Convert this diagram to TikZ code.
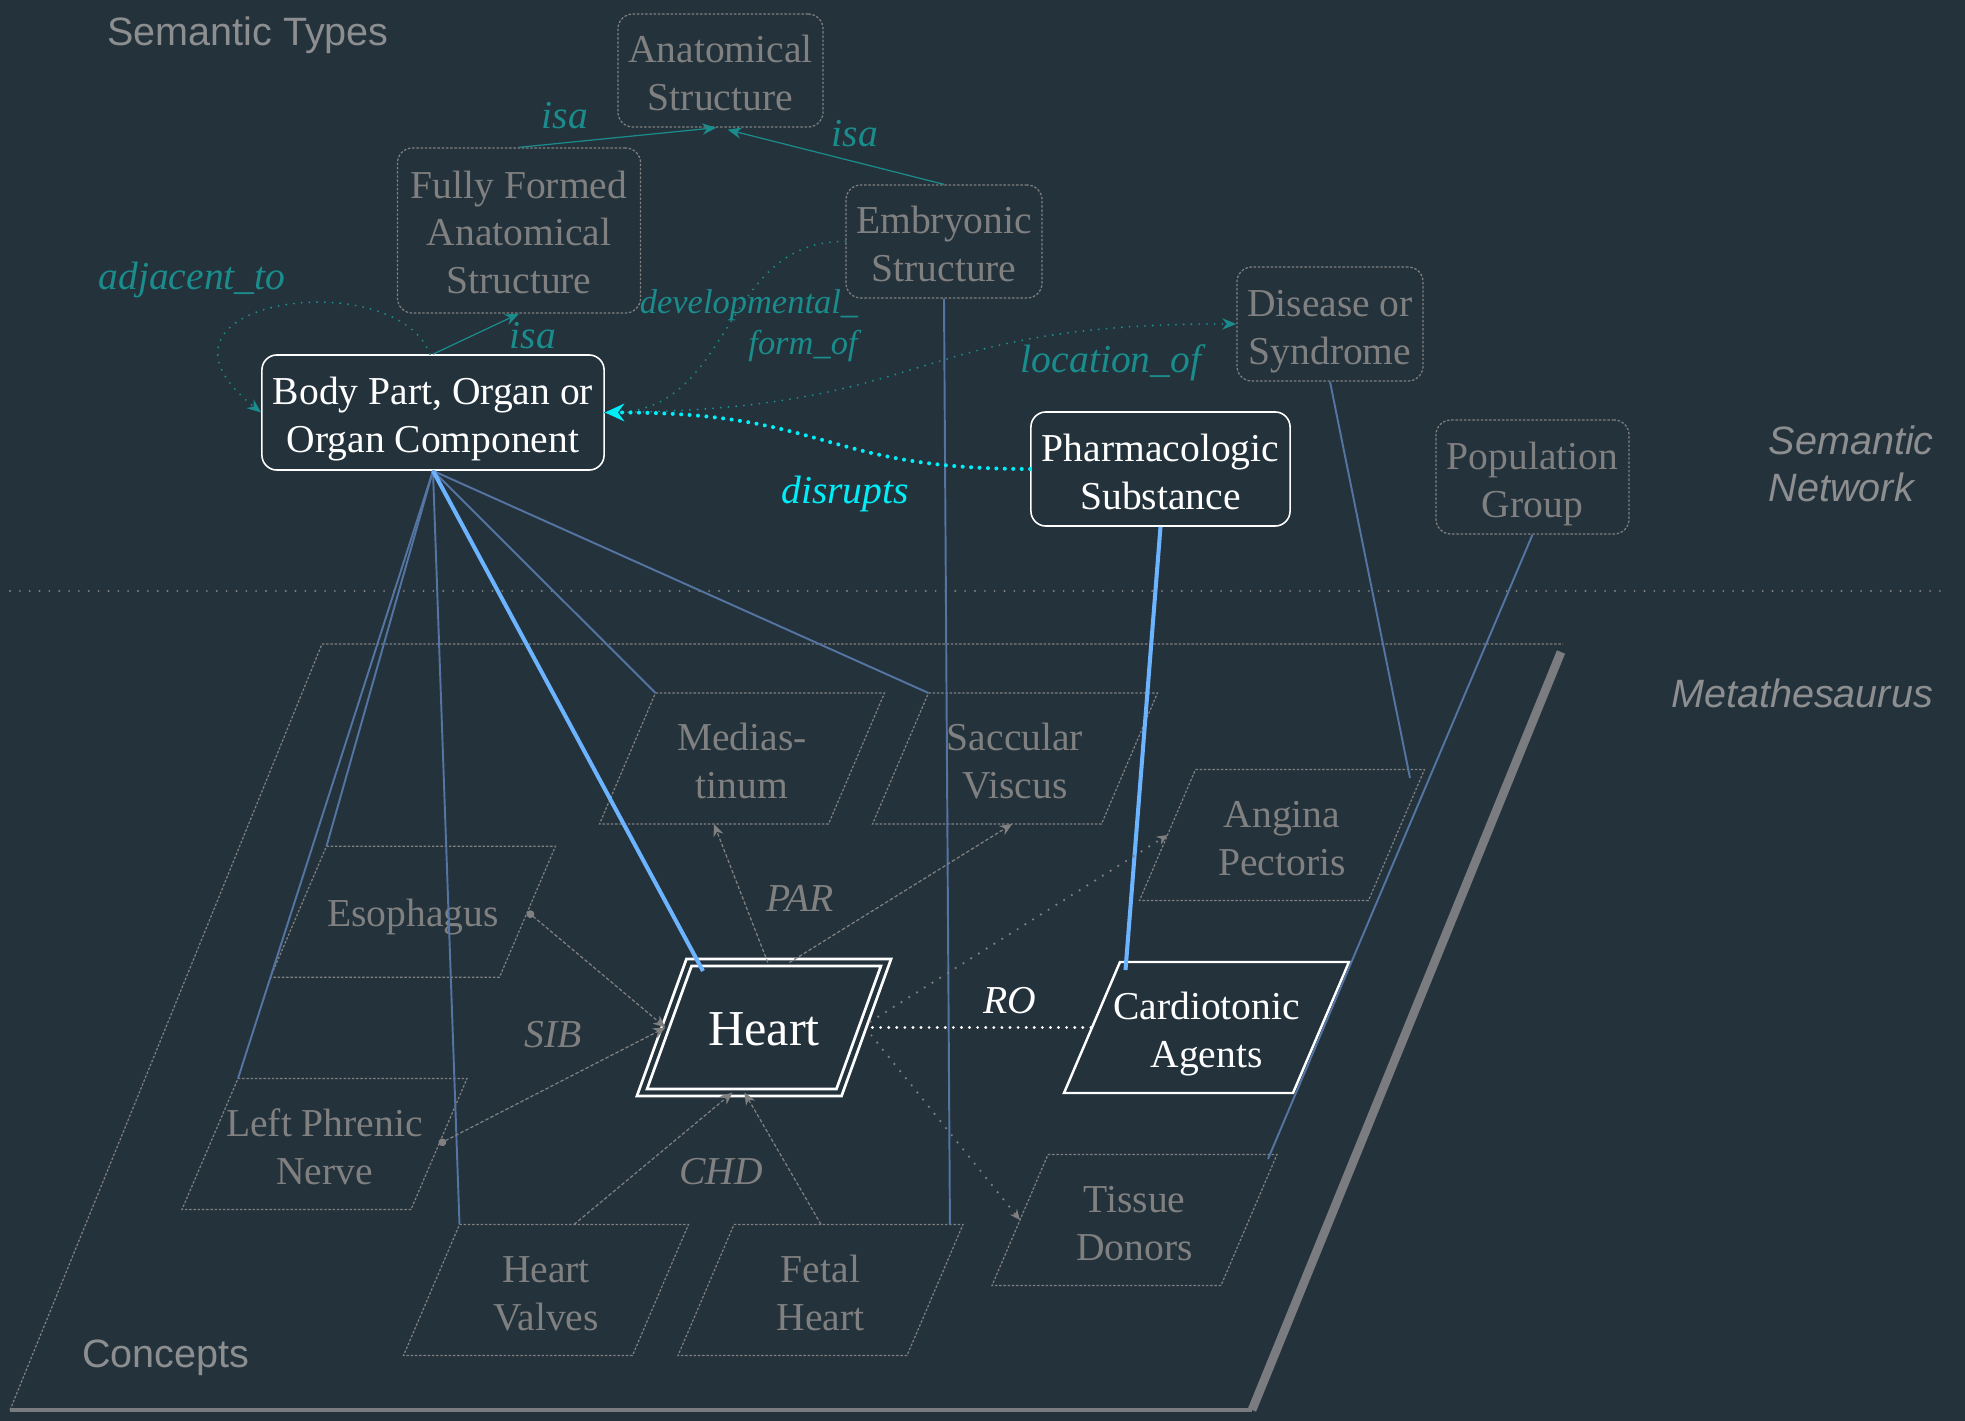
\documentclass[tikz,border=0pt]{standalone}
\usepackage{fontspec}
\setmainfont{Liberation Serif}
\setsansfont{Liberation Sans}
\usetikzlibrary{arrows.meta,calc}

\definecolor{bg}{RGB}{36,50,60}
\definecolor{typegray}{RGB}{128,128,128}
\definecolor{headgray}{RGB}{140,142,144}
\definecolor{edgegray}{RGB}{122,124,127}
\definecolor{relteal}{RGB}{26,140,140}
\definecolor{hicyan}{RGB}{0,238,248}
\definecolor{mapblue}{RGB}{84,116,162}
\definecolor{hiblue}{RGB}{108,180,255}

% slanted concept frame around a text node:
% #1 node name, #2 frame style, #3 top width, #4 slant, #5 height
\newcommand{\slantbox}[5]{%
  \path (#1.center) ++({(#4-#3)/2},{-#5/2}) coordinate (#1-tl)
    ++(#3,0) coordinate (#1-tr) ++(-#4,#5) coordinate (#1-br)
    ++(-#3,0) coordinate (#1-bl);
  \draw[#2] (#1-tl) -- (#1-tr) -- (#1-br) -- (#1-bl) -- cycle;
}

\tikzset{
  txt/.style={font=\fontsize{11.25}{13.55}\selectfont, align=center, inner sep=0pt,
    text depth=0pt, text height=22.8pt},
  oneline/.style={text height=8.4pt},
  threeline/.style={text height=35.9pt},
  semtype/.style={txt, rectangle, rounded corners=0.15cm, draw=typegray,
    line width=0.35pt, dash pattern=on 0.7pt off 0.5pt, text=typegray},
  semhi/.style={txt, rectangle, rounded corners=0.15cm, draw=white,
    line width=0.45pt, text=white},
  conceptname/.style={txt, text=typegray},
  concepthiname/.style={txt, text=white},
  heartname/.style={txt, text=white, font=\fontsize{14.3}{17}\selectfont, text height=10pt},
  conceptframe/.style={draw=typegray, line width=0.35pt, dash pattern=on 0.7pt off 0.5pt},
  concepthiframe/.style={draw=white, line width=0.7pt, line join=miter},
  heartframe/.style={draw=white, line width=0.8pt, double=bg, double distance=1.2pt, line join=miter},
  heading/.style={font=\sffamily\fontsize{11.25}{13.55}\selectfont, text=headgray, inner sep=0pt},
  sideheading/.style={font=\sffamily\itshape\fontsize{11.25}{13.55}\selectfont, text=headgray, inner sep=0pt},
  relname/.style={font=\itshape\fontsize{11.25}{13.55}\selectfont, text=relteal, inner sep=0pt},
  smallrelname/.style={font=\itshape\fontsize{9.8}{11.8}\selectfont, text=relteal, inner sep=0pt},
  conname/.style={font=\itshape\fontsize{11.25}{13.55}\selectfont, text=typegray, inner sep=0pt},
  isaline/.style={draw=relteal, line width=0.35pt, -{Stealth[length=4pt,width=3.2pt]}},
  semrel/.style={draw=relteal, line width=0.6pt, line cap=round,
    dash pattern=on 0pt off 2.2pt, -{Stealth[length=4pt,width=3.2pt]}},
  disrel/.style={draw=hicyan, line width=1.15pt, line cap=round,
    dash pattern=on 0pt off 2.4pt, -{Stealth[length=5.5pt,width=5pt]}},
  mapline/.style={draw=mapblue, line width=0.55pt},
  hiline/.style={draw=hiblue, line width=1.15pt},
  conrel/.style={draw=typegray, line width=0.35pt, dash pattern=on 1pt off 0.6pt,
    -{Stealth[length=3.5pt,width=3pt]}},
  sibrel/.style={draw=typegray, line width=0.35pt, dash pattern=on 1pt off 0.6pt,
    {Circle[length=2.2pt]}-{Stealth[length=3.5pt,width=3pt]}},
  conassoc/.style={draw=typegray, line width=0.7pt, line cap=round,
    dash pattern=on 0pt off 2.6pt, -{Stealth[length=3pt,width=2.6pt]}},
  rorel/.style={draw=white, line width=0.9pt, line cap=round, dash pattern=on 0pt off 2.3pt},
  sepline/.style={draw=typegray, line width=0.6pt, line cap=round, dash pattern=on 0pt off 2.8pt},
  planeline/.style={draw=typegray, line width=0.35pt, dash pattern=on 0.7pt off 0.5pt},
  planeedge/.style={draw=edgegray, line width=2.5pt},
  planebase/.style={draw=edgegray, line width=1.4pt},
}

\begin{document}
\begin{tikzpicture}[x=0.01cm,y=-0.01cm]
\useasboundingbox (0,0) rectangle (1965,1421);
\fill[bg] (0,0) rectangle (1965,1421);

% ---------- concept plane and layer separator ----------
\coordinate (pTL) at (322,644);
\coordinate (pTR) at (1563,644);
\coordinate (pBR) at (1252,1410);
\coordinate (pBL) at (10,1410);
\draw[planeline] (pBL) -- (pTL) -- (pTR);
\draw[planeedge] ([shift={(-2,8)}]pTR) -- (pBR);
\draw[planebase] (pBL) -- (pBR);

\coordinate (sepL) at (10,591);
\coordinate (sepR) at (1947,591);
\draw[sepline] (sepL) -- (sepR);

% ---------- headings ----------
\node[heading] (hTypes) at (248,35) {Semantic Types};
\node[sideheading, align=left, anchor=west] (hNet) at (1768,464) {Semantic\\Network};
\node[sideheading] (hMeta) at (1802,693) {Metathesaurus};
\node[heading] (hConc) at (166,1358) {Concepts};

% ---------- semantic types ----------
\node[semtype, minimum width=2.05cm, minimum height=1.13cm] (anat) at (720.5,70.5) {Anatomical\\Structure};
\node[semtype, threeline, minimum width=2.43cm, minimum height=1.65cm] (ff) at (519,230.5) {Fully Formed\\Anatomical\\Structure};
\node[semtype, minimum width=1.96cm, minimum height=1.13cm] (emb) at (944,241.5) {Embryonic\\Structure};
\node[semtype, minimum width=1.86cm, minimum height=1.14cm] (dis) at (1330,324) {Disease or\\Syndrome};
\node[semtype, minimum width=1.93cm, minimum height=1.14cm] (pop) at (1532.5,477) {Population\\Group};
\node[semhi, minimum width=3.42cm, minimum height=1.15cm] (bp) at (433,412.5) {Body Part, Organ or\\Organ Component};
\node[semhi, minimum width=2.59cm, minimum height=1.14cm] (ph) at (1160.5,469) {Pharmacologic\\Substance};

% ---------- concepts ----------
\node[conceptname] (med) at (742,758.5) {Medias-\\tinum};
\node[conceptname] (sac) at (1015,758.5) {Saccular\\Viscus};
\node[conceptname] (ang) at (1282,835) {Angina\\Pectoris};
\node[conceptname, oneline] (eso) at (413,911.7) {Esophagus};
\node[heartname] (heart) at (764,1027.5) {Heart};
\node[concepthiname] (cardio) at (1206.5,1027.5) {Cardiotonic\\Agents};
\node[conceptname] (lpn) at (324.5,1144) {Left Phrenic\\Nerve};
\node[conceptname] (tis) at (1134.5,1220) {Tissue\\Donors};
\node[conceptname] (hv) at (546,1290) {Heart\\Valves};
\node[conceptname] (fh) at (820.5,1290) {Fetal\\Heart};

\slantbox{med}{conceptframe}{229}{56}{131}
\slantbox{sac}{conceptframe}{229}{56}{131}
\slantbox{ang}{conceptframe}{229}{56}{131}
\slantbox{eso}{conceptframe}{229}{56}{131}
\slantbox{lpn}{conceptframe}{229}{56}{131}
\slantbox{tis}{conceptframe}{229}{56}{131}
\slantbox{hv}{conceptframe}{229}{56}{131}
\slantbox{fh}{conceptframe}{229}{56}{131}
\slantbox{cardio}{concepthiframe}{229}{56}{131}
\slantbox{heart}{heartframe}{197}{47}{130}

% ---------- semantic type to concept mappings ----------
\draw[mapline] (bp.south) -- (med-tl);
\draw[mapline] (bp.south) -- (sac-tl);
\draw[mapline] (bp.south) -- (eso-tl);
\draw[mapline] (bp.south) -- (lpn-tl);
\draw[mapline] (bp.south) -- (hv-tl);
\draw[hiline] (bp.south) -- ([shift={(14,8.5)}]heart-tl);
\draw[mapline] (emb.south) -- ($(fh-tl)!0.943!(fh-tr)$);
\draw[mapline] (dis.south) -- ([shift={(-14.5,8.5)}]ang-tr);
\draw[mapline] (pop.south) -- ([shift={(-9,4.5)}]tis-tr);
\draw[hiline] (ph.south) -- ([shift={(5.5,8)}]cardio-tl);

% ---------- semantic network relations ----------
\draw[isaline] (ff.north) -- ([shift={(-4,0)}]anat.south);
\draw[isaline] (emb.north) -- ([shift={(7,2)}]anat.south);
\draw[isaline] (bp.north) -- (ff.south);
\draw[semrel] ([shift={(-3,0)}]bp.north) .. controls (395,262) and (120,300) .. (bp.west);
\draw[semrel] (emb.west) .. controls (720,240) and (735,412) .. (bp.east);
\draw[semrel] (bp.east) .. controls (940,411) and (900,323) .. (dis.west);
\draw[disrel] (ph.west) .. controls (820,469) and (830,412) .. (bp.east);

\node[relname] (isaA) at (565,116) {isa};
\node[relname] (isaB) at (855,134) {isa};
\node[relname] (isaC) at (533,336) {isa};
\node[relname] (adj) at (192,280) {adjacent\_to};
\node[smallrelname] (devA) at (749,305) {developmental\_};
\node[smallrelname] (devB) at (803,346) {form\_of};
\node[relname] (loc) at (1111,363) {location\_of};
\node[relname, text=hicyan] (disr) at (845,494) {disrupts};

% ---------- concept relations ----------
\coordinate (heartW) at ($(heart-tl)!0.5!(heart-bl)$);
\coordinate (heartE) at ($(heart-tr)!0.5!(heart-br)$);
\draw[conrel] ($(heart-tl)!0.40!(heart-tr)$) -- ($(med-bl)!0.5!(med-br)$);
\draw[conrel] ($(heart-tl)!0.51!(heart-tr)$) -- ($(sac-bl)!0.61!(sac-br)$);
\draw[sibrel] ($(eso-tr)!0.5!(eso-br)$) -- (heartW);
\draw[sibrel] ($(lpn-tr)!0.5!(lpn-br)$) -- (heartW);
\draw[conrel] ($(hv-tl)!0.5!(hv-tr)$) -- ($(heart-bl)!0.46!(heart-br)$);
\draw[conrel] ($(fh-tl)!0.38!(fh-tr)$) -- ($(heart-bl)!0.52!(heart-br)$);
\draw[rorel] ([shift={(10,0)}]heartE) -- ($(cardio-tl)!0.5!(cardio-bl)$);
\draw[conassoc] ([shift={(8,-6)}]heartE) -- ($(ang-tl)!0.5!(ang-bl)$);
\draw[conassoc] ([shift={(9,8)}]heartE) -- ($(tis-tl)!0.5!(tis-bl)$);

\node[conname] (par) at (800,898) {PAR};
\node[conname] (sib) at (553,1035) {SIB};
\node[conname] (chd) at (721,1172) {CHD};
\node[conname, text=white] (ro) at (1010,1001) {RO};
\end{tikzpicture}
\end{document}
